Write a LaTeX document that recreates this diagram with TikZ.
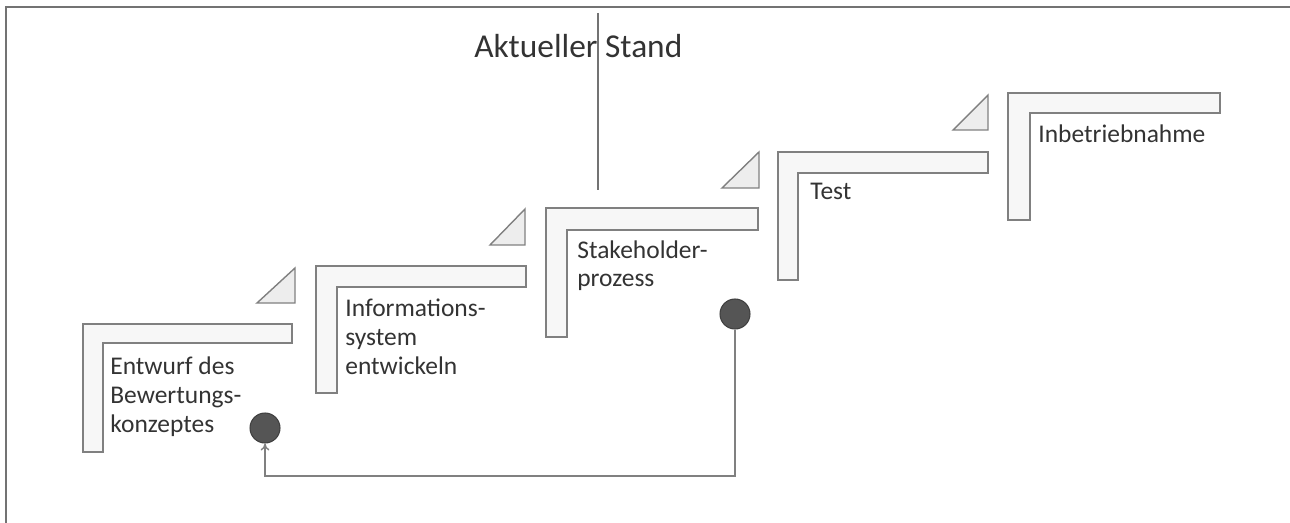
\documentclass[tikz,border=0pt]{standalone}
\usepackage{fontspec}
\setmainfont{Carlito}
\usetikzlibrary{arrows.meta}
\definecolor{edge}{HTML}{808080}
\definecolor{barfill}{HTML}{F7F7F7}
\definecolor{trifill}{HTML}{EDEDED}
\definecolor{dotfill}{HTML}{555555}
\definecolor{txt}{HTML}{333333}
\tikzset{
  stepbar/.style={draw=edge, fill=barfill, line width=0.9pt, line join=miter},
  triang/.style={draw=edge, fill=trifill, line width=0.8pt},
  lbl/.style={anchor=base west, inner sep=0pt, align=left, text=txt,
    font=\fontsize{14.5}{16.3}\selectfont},
  dot/.style={circle, draw=black!75, fill=dotfill, line width=0.6pt, minimum size=0.6cm, inner sep=0pt},
  conn/.style={draw=edge, line width=0.8pt},
  frame/.style={draw=black!55, line width=1.2pt}
}
\begin{document}
\begin{tikzpicture}[x=0.02cm, y=-0.02cm]
\useasboundingbox (0,0) rectangle (1290,523);
% frame
\draw[frame] (6,523) -- (6,7) -- (1290,7);
% current state marker
\draw[conn, draw=black!55] (598,13) -- (598,190);
\node[anchor=base west, inner sep=0pt, text=txt, font=\fontsize{19}{22}\selectfont] (stand) at (474,58) {Aktueller Stand};
% step 1
\draw[stepbar] (83,324) -- (292,324) -- (292,343) -- (103,343) -- (103,452) -- (83,452) -- cycle;
\draw[triang] (257,303) -- (295,303) -- (295,268) -- cycle;
\node[lbl] (s1) at (110,432) {Entwurf des\\Bewertungs-\\konzeptes};
% step 2
\draw[stepbar] (316,266) -- (526,266) -- (526,287) -- (337,287) -- (337,393) -- (316,393) -- cycle;
\draw[triang] (490,245) -- (525,245) -- (525,209) -- cycle;
\node[lbl] (s2) at (345,374) {Informations-\\system\\entwickeln};
% step 3
\draw[stepbar] (546,208) -- (758,208) -- (758,230) -- (567,230) -- (567,337) -- (546,337) -- cycle;
\draw[triang] (722,188) -- (759,188) -- (759,152) -- cycle;
\node[lbl] (s3) at (577,287) {Stakeholder-\\prozess};
% step 4
\draw[stepbar] (778,152) -- (988,152) -- (988,173) -- (798,173) -- (798,280) -- (778,280) -- cycle;
\draw[triang] (953,130) -- (988,130) -- (988,95) -- cycle;
\node[lbl] (s4) at (810,200) {Test};
% step 5
\draw[stepbar] (1008,93) -- (1220,93) -- (1220,113) -- (1030,113) -- (1030,220) -- (1008,220) -- cycle;
\node[lbl] (s5) at (1038,143) {Inbetriebnahme};
% feedback loop
\node[dot] (c1) at (265,428) {};
\node[dot] (c2) at (735,314) {};
\coordinate (low) at (500,476);
\draw[conn, -{To[length=4pt,width=5pt]}] (c2.south) -- (c2.south |- low) -| (c1.south);
\end{tikzpicture}
\end{document}
